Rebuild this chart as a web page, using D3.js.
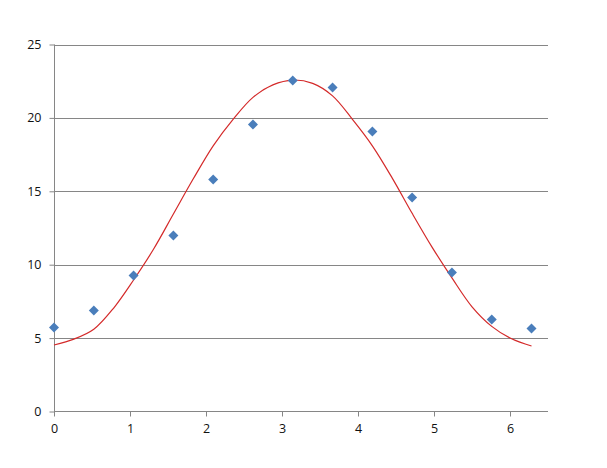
<!DOCTYPE html>
<html><head><meta charset="utf-8">
<script src="https://cdn.jsdelivr.net/npm/d3@7"></script>
<style>body{margin:0;background:#fff;} svg{display:block;}</style>
</head><body>
<svg id="c" width="607" height="468"></svg>
<script>
// Data
const pointX = [0, 0.5236, 1.0472, 1.5708, 2.0944, 2.6180, 3.1416, 3.6652, 4.1888, 4.7124, 5.2360, 5.7596, 6.2832];
const pointY = [5.72, 6.88, 9.26, 11.99, 15.80, 19.55, 22.55, 22.07, 19.07, 14.58, 9.47, 6.27, 5.65];
const curveX = [0, 0.2618, 0.5236, 0.7854, 1.0472, 1.3090, 1.5708, 1.8326, 2.0944, 2.3562, 2.6180, 2.8798, 3.1416,
                3.4034, 3.6652, 3.9270, 4.1888, 4.4506, 4.7124, 4.9742, 5.2360, 5.4978, 5.7596, 6.0214, 6.2832];
const curveY = [4.53, 4.93, 5.6, 7.05, 8.96, 11.05, 13.45, 15.85, 18.1, 19.9, 21.4, 22.25, 22.58,
                22.35, 21.5, 19.9, 18.1, 15.9, 13.5, 11.2, 9.1, 7.15, 5.8, 4.95, 4.46];
const xTicks = [0, 1, 2, 3, 4, 5, 6];
const yTicks = [0, 5, 10, 15, 20, 25];

(function () {
const svg = d3.select("#c");
const mL = 54, mR = 548, mT = 44.5, mB = 411.5;
const x = d3.scaleLinear().domain([0, 6.5]).range([mL, mR]);
const y = d3.scaleLinear().domain([0, 25]).range([mB, mT]);
const font = "'Open Sans', 'Liberation Sans', sans-serif";

// gridlines
svg.append("g").selectAll("line").data(yTicks.filter(d => d > 0)).join("line")
  .attr("x1", mL).attr("x2", mR)
  .attr("y1", d => Math.round(y(d)) + 0.5).attr("y2", d => Math.round(y(d)) + 0.5)
  .attr("stroke", "#868686").attr("stroke-width", 1);

// y axis
const yAxis = svg.append("g").attr("transform", `translate(${mL + 0.5},0)`)
  .call(d3.axisLeft(y).tickValues(yTicks).tickSize(5).tickPadding(8).tickFormat(d3.format("d")));
yAxis.select(".domain").attr("stroke", "#868686").attr("d", `M0,${mT}V${mB}`);
yAxis.selectAll(".tick line").attr("stroke", "#868686");
yAxis.selectAll(".tick text").attr("font-family", font).attr("font-size", 12.5).attr("fill", "#111");

// x axis
const xAxis = svg.append("g").attr("transform", `translate(0,${Math.round(mB) - 0.5})`)
  .call(d3.axisBottom(x).tickValues(xTicks).tickSize(5).tickPadding(8).tickFormat(d3.format("d")));
xAxis.select(".domain").attr("stroke", "#868686").attr("d", `M${mL},0H${mR}`);
xAxis.selectAll(".tick line").attr("stroke", "#868686");
xAxis.selectAll(".tick text").attr("font-family", font).attr("font-size", 12.5).attr("fill", "#111");

// curve
const curveData = curveX.map((d, i) => [d, curveY[i]]);
svg.append("path").datum(curveData)
  .attr("fill", "none").attr("stroke", "#D42A2A").attr("stroke-width", 1.2)
  .attr("d", d3.line().x(d => x(d[0])).y(d => y(d[1])).curve(d3.curveCatmullRom));

// markers
const pts = pointX.map((d, i) => [d, pointY[i]]);
svg.append("g").selectAll("path").data(pts).join("path")
  .attr("transform", d => `translate(${x(d[0])},${y(d[1])})`)
  .attr("d", "M0,-5L5,0L0,5L-5,0Z")
  .attr("fill", "#4A7EBB");
})();
</script>
</body></html>
